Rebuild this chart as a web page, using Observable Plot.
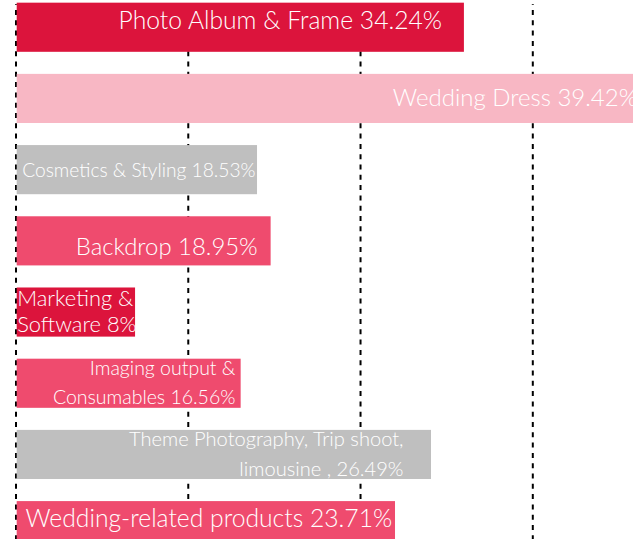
<!DOCTYPE html>
<html>
<head>
<meta charset="utf-8">
<script src="https://cdn.jsdelivr.net/npm/d3@7"></script>
<script src="https://cdn.jsdelivr.net/npm/@observablehq/plot@0.6"></script>
<style>
  html, body { margin: 0; padding: 0; background: #fff; overflow: hidden; }
  #chart svg { display: block; overflow: hidden; }
</style>
</head>
<body>
<div id="chart"></div>
<script>
// ---- data ----
const categories = [
  "Photo Album & Frame",
  "Wedding Dress",
  "Cosmetics & Styling",
  "Backdrop",
  "Marketing &\nSoftware",
  "Imaging output &\nConsumables",
  "Theme Photography, Trip shoot,\nlimousine ,",
  "Wedding-related products"
];
const shares = [34.24, 39.42, 18.53, 18.95, 8, 16.56, 26.49, 23.71];
// drawn bar lengths, in units of the dashed grid (gridlines at 0, 10, 20, 30)
const barLengths = [26.03, 37, 14.02, 14.81, 6.94, 13.07, 24.12, 22.03];
const gridTicks = [0, 10, 20, 30];

// ---- styles ----
const barColors = ["#DC143C", "#F8B7C4", "#BFBFBF", "#EF4B6E", "#DC143C", "#EF4B6E", "#BFBFBF", "#EF4B6E"];
const labelStyles = [
  {anchor: "end",   dx: -22.3, dy: 1.5,  size: 24.7, lh: 1},
  {anchor: "end",   dx: -16,   dy: 7.5,  size: 24.0, lh: 1},
  {anchor: "start", dx: 6.2,   dy: 7,    size: 19.2, lh: 1},
  {anchor: "end",   dx: -13.4, dy: 13.3, size: 23.9, lh: 1},
  {anchor: "start", dx: 1.2,   dy: 19.9, size: 21.9, lh: 1.19},
  {anchor: "end",   dx: -5.7,  dy: 20.4, size: 19.5, lh: 1.47},
  {anchor: "end",   dx: -28,   dy: 21.1, size: 20.1, lh: 1.5},
  {anchor: "start", dx: 9.5,   dy: 1.2,  size: 24.7, lh: 1}
];

const rows = categories.map((c, i) => ({
  cat: c,
  len: barLengths[i],
  color: barColors[i],
  label: `${c} ${shares[i]}%`
}));

const labelMarks = rows.map((r, i) => {
  const s = labelStyles[i];
  return Plot.text([r], {
    x: d => (s.anchor === "end" ? d.len : 0),
    y: "cat",
    text: "label",
    textAnchor: s.anchor,
    lineAnchor: "bottom",
    lineHeight: s.lh,
    dx: s.dx,
    dy: s.dy,
    fontSize: s.size,
    fontFamily: "Lato",
    fontWeight: 300,
    fill: "#ffffff"
  });
});

const chart = Plot.plot({
  width: 633,
  height: 539,
  marginLeft: 0,
  marginRight: 0,
  marginTop: 4,
  marginBottom: 0,
  x: {domain: [0, 30], range: [15.5, 532.3], axis: null},
  y: {domain: categories, range: [-19.4, 572.3], padding: 0.31, round: false, axis: null},
  marks: [
    Plot.ruleX(gridTicks, {stroke: "#000", strokeWidth: 2, strokeDasharray: "5,5.3", strokeDashoffset: 4.3}),
    Plot.barX(rows, {x: "len", y: "cat", fill: "color", insetLeft: 1.2}),
    ...labelMarks
  ]
});
document.getElementById("chart").appendChild(chart);
</script>
</body>
</html>
